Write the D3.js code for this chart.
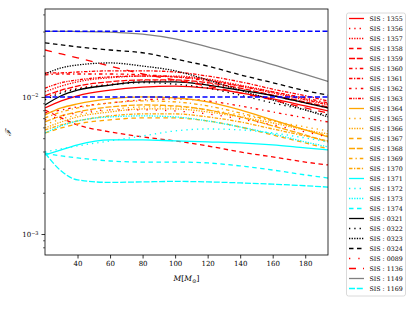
<!DOCTYPE html>
<html>
<head>
<meta charset="utf-8">
<script src="https://cdn.jsdelivr.net/npm/d3@7"></script>
<style>
  body { margin: 0; background: #fff; }
  svg { display: block; }
</style>
</head>
<body>
<div id="chart"></div>
<script>
var mass = [20, 30, 40, 60, 80, 100, 120, 140, 160, 180, 194];

// red set
var sis1355 = [0.00831, 0.00935, 0.0102, 0.0112, 0.0118, 0.0120, 0.0116, 0.0107, 0.00967, 0.00860, 0.00790];
var sis1356 = [0.00983, 0.0109, 0.0116, 0.0124, 0.0131, 0.0131, 0.0124, 0.0114, 0.0102, 0.00904, 0.00831];
var sis1357 = [0.0109, 0.0120, 0.0129, 0.0138, 0.0142, 0.0142, 0.0135, 0.0122, 0.0109, 0.00967, 0.00889];
var sis1358 = [0.00804, 0.00703, 0.00625, 0.00556, 0.00511, 0.00478, 0.00439, 0.00397, 0.00365, 0.00335, 0.00319];
var sis1359 = [0.0102, 0.0112, 0.0120, 0.0129, 0.0133, 0.0133, 0.0127, 0.0116, 0.0103, 0.00920, 0.00845];
var sis1360 = [0.0145, 0.0147, 0.0147, 0.0147, 0.0145, 0.0140, 0.0131, 0.0120, 0.0109, 0.00983, 0.00904];
var sis1361 = [0.0150, 0.0150, 0.0152, 0.0155, 0.0155, 0.0152, 0.0142, 0.0129, 0.0114, 0.0102, 0.00935];
var sis1362 = [0.00764, 0.00804, 0.00845, 0.00904, 0.00951, 0.00967, 0.00935, 0.00860, 0.00777, 0.00703, 0.00657];
var sis1363 = [0.0116, 0.0127, 0.0133, 0.0140, 0.0142, 0.0140, 0.0133, 0.0120, 0.0107, 0.00951, 0.00874];
// orange set
var sis1364 = [0.00739, 0.00831, 0.00889, 0.00967, 0.0100, 0.00983, 0.00920, 0.00804, 0.00680, 0.00575, 0.00511];
var sis1365 = [0.00625, 0.00691, 0.00739, 0.00804, 0.00845, 0.00845, 0.00804, 0.00739, 0.00668, 0.00604, 0.00565];
var sis1366 = [0.00594, 0.00657, 0.00715, 0.00777, 0.00817, 0.00817, 0.00777, 0.00715, 0.00646, 0.00575, 0.00537];
var sis1367 = [0.00546, 0.00594, 0.00636, 0.00680, 0.00703, 0.00703, 0.00668, 0.00604, 0.00528, 0.00462, 0.00418];
var sis1368 = [0.00657, 0.00727, 0.00777, 0.00845, 0.00874, 0.00860, 0.00804, 0.00715, 0.00615, 0.00528, 0.00470];
var sis1369 = [0.00703, 0.00777, 0.00831, 0.00904, 0.00935, 0.00920, 0.00860, 0.00764, 0.00668, 0.00575, 0.00519];
var sis1370 = [0.00575, 0.00625, 0.00668, 0.00727, 0.00752, 0.00752, 0.00715, 0.00657, 0.00584, 0.00519, 0.00478];
// cyan set
var sis1371 = [0.00378, 0.00411, 0.00447, 0.00486, 0.00486, 0.00478, 0.00470, 0.00462, 0.00447, 0.00425, 0.00411];
var sis1372 = [0.00397, 0.00418, 0.00439, 0.00478, 0.00519, 0.00565, 0.00584, 0.00575, 0.00546, 0.00502, 0.00470];
var sis1373 = [0.00546, 0.00615, 0.00668, 0.00715, 0.00727, 0.00715, 0.00668, 0.00604, 0.00537, 0.00470, 0.00432];
var sis1374 = [0.00390, 0.00371, 0.00359, 0.00341, 0.00335, 0.00335, 0.00330, 0.00314, 0.00293, 0.00270, 0.00256];
// black set
var sis0321 = [0.00874, 0.0102, 0.0112, 0.0122, 0.0129, 0.0129, 0.0122, 0.0112, 0.0102, 0.00904, 0.00831];
var sis0322 = [0.00951, 0.0107, 0.0114, 0.0122, 0.0127, 0.0124, 0.0116, 0.0103, 0.00904, 0.00804, 0.00739];
var sis0323 = [0.0147, 0.0163, 0.0171, 0.0177, 0.0168, 0.0155, 0.0133, 0.0112, 0.00951, 0.00804, 0.00715];
var sis0324 = [0.0248, 0.0240, 0.0232, 0.0220, 0.0210, 0.0189, 0.0168, 0.0145, 0.0127, 0.0111, 0.0103];
// the rest
var sis0089 = [0.00680, 0.00727, 0.00764, 0.00804, 0.00804, 0.00790, 0.00752, 0.00691, 0.00625, 0.00556, 0.00511];
var sis1136 = [0.0220, 0.0206, 0.0193, 0.0168, 0.0147, 0.0133, 0.0120, 0.0107, 0.00951, 0.00831, 0.00764];
var sis1149 = [0.0301, 0.0301, 0.0300, 0.0297, 0.0287, 0.0265, 0.0232, 0.0200, 0.0172, 0.0146, 0.0130];
var sis1169 = [0.00390, 0.00288, 0.00248, 0.00238, 0.00240, 0.00242, 0.00240, 0.00236, 0.00231, 0.00225, 0.00220];

var seriesNames = ["1355","1356","1357","1358","1359","1360","1361","1362","1363",
  "1364","1365","1366","1367","1368","1369","1370",
  "1371","1372","1373","1374",
  "0321","0322","0323","0324",
  "0089","1136","1149","1169"];
var seriesValues = [sis1355, sis1356, sis1357, sis1358, sis1359, sis1360, sis1361, sis1362, sis1363,
  sis1364, sis1365, sis1366, sis1367, sis1368, sis1369, sis1370,
  sis1371, sis1372, sis1373, sis1374,
  sis0321, sis0322, sis0323, sis0324,
  sis0089, sis1136, sis1149, sis1169];

// horizontal reference levels (blue dashed)
var refLevels = [0.0301, 0.0100];

var massTicks = [40, 60, 80, 100, 120, 140, 160, 180];
var fMajorTicks = [0.001, 0.01];
var fMinorTicks = [0.0008, 0.0009, 0.002, 0.003, 0.004, 0.005, 0.006, 0.007, 0.008, 0.009, 0.02, 0.03, 0.04];

// styles, same order as seriesNames
var RED = "#ff0000", ORANGE = "#ffa500", CYAN = "#00ffff";
var seriesColors = [RED,RED,RED,RED,RED,RED,RED,RED,RED,
  ORANGE,ORANGE,ORANGE,ORANGE,ORANGE,ORANGE,ORANGE,
  CYAN,CYAN,CYAN,CYAN,
  "#000","#000","#000","#000",
  RED, RED, "#808080", CYAN];
var dashCycle = [null, "1.3,4", "1.3,1.3", "4.5,3.5", "6,1.8", "3.5,3,1.3,3", "3.5,1.5,1.3,1.5", "2.5,4,1.3,4", "3,1.2,1.2,1.2,1.2,1.2"];
var seriesDash = [0,1,2,3,4,5,6,7,8, 0,1,2,3,4,5,6, 0,1,2,3, 0,1,2,3]
  .map(function(i) { return dashCycle[i]; })
  .concat(["1.3,8", "7,7", null, "6,1.8"]);

var W = 415, H = 311;
var margin = {top: 9, right: 87, bottom: 56, left: 45};
var width = W - margin.left - margin.right;
var height = H - margin.top - margin.bottom;

var svg = d3.select("#chart").append("svg")
    .attr("width", W)
    .attr("height", H);

var g = svg.append("g")
    .attr("transform", "translate(" + margin.left + "," + margin.top + ")");

var x = d3.scaleLinear().domain([20, 194]).range([0, width]);
var y = d3.scaleLog().domain([0.000703, 0.0438]).range([height, 0]);

g.append("clipPath").attr("id", "clip")
  .append("rect").attr("width", width).attr("height", height);

var plot = g.append("g").attr("clip-path", "url(#clip)");

var line = d3.line()
    .x(function(d, i) { return x(mass[i]); })
    .y(function(d) { return y(d); })
    .curve(d3.curveMonotoneX);

seriesValues.forEach(function(vals, k) {
  plot.append("path")
    .attr("d", line(vals))
    .attr("fill", "none")
    .attr("stroke", seriesColors[k])
    .attr("stroke-width", 1.3)
    .attr("stroke-dasharray", seriesDash[k]);
});

plot.selectAll(".ref")
  .data(refLevels)
  .enter().append("line")
    .attr("x1", 0).attr("x2", width)
    .attr("y1", function(d) { return y(d); })
    .attr("y2", function(d) { return y(d); })
    .attr("stroke", "#0000ff")
    .attr("stroke-width", 1.5)
    .attr("stroke-dasharray", "5,2.5");

var tickFont = "DejaVu Serif, serif";

// x axis
var xAxis = g.append("g")
    .attr("transform", "translate(0," + height + ")")
    .call(d3.axisBottom(x).tickValues(massTicks).tickSize(3.5).tickPadding(3).tickSizeOuter(0));
xAxis.select(".domain").remove();
xAxis.selectAll(".tick line").attr("stroke-width", 0.8);
xAxis.selectAll("text").attr("font-family", tickFont).attr("font-size", 7).attr("fill", "#000");

// y axis, major
var yAxis = g.append("g")
    .call(d3.axisLeft(y).tickValues(fMajorTicks).tickSize(3.5).tickPadding(3).tickFormat(""));
yAxis.select(".domain").remove();
yAxis.selectAll(".tick line").attr("stroke-width", 0.8);
yAxis.selectAll(".tick text").each(function(d) {
  var t = d3.select(this)
    .attr("font-family", tickFont).attr("font-size", 7).attr("fill", "#000");
  t.append("tspan").text("10");
  t.append("tspan").attr("dy", "-0.45em").attr("font-size", 5).text("\u2212" + Math.round(-Math.log10(d)));
});

// y axis, minor
var yMinor = g.append("g")
    .call(d3.axisLeft(y).tickValues(fMinorTicks).tickSize(2).tickFormat(""));
yMinor.select(".domain").remove();
yMinor.selectAll(".tick line").attr("stroke-width", 0.6);

// frame
g.append("rect")
  .attr("width", width).attr("height", height)
  .attr("fill", "none").attr("stroke", "#000").attr("stroke-width", 0.8);

// axis labels
var xl = svg.append("text")
    .attr("x", margin.left + width / 2)
    .attr("y", 281)
    .attr("text-anchor", "middle")
    .attr("font-family", tickFont).attr("font-size", 7.5);
xl.append("tspan").attr("font-style", "italic").text("M");
xl.append("tspan").text("[");
xl.append("tspan").attr("font-style", "italic").text("M");
xl.append("tspan").attr("font-size", 5.5).attr("dy", 1.5).text("\u2299");
xl.append("tspan").attr("dy", -1.5).text("]");

svg.append("text")
  .attr("transform", "translate(11," + (margin.top + height / 2) + ") rotate(-90)")
  .attr("text-anchor", "middle")
  .attr("font-family", tickFont).attr("font-style", "italic").attr("font-size", 8)
  .text("\u2131");

// legend
var legend = svg.append("g").attr("transform", "translate(346.5,13)");
legend.append("rect")
  .attr("width", 59).attr("height", 283).attr("rx", 2)
  .attr("fill", "#fff").attr("stroke", "#d0d0d0").attr("stroke-width", 0.8);

var items = legend.selectAll(".item")
  .data(seriesNames)
  .enter().append("g")
    .attr("transform", function(d, i) { return "translate(0," + (5.5 + i * 10) + ")"; });

items.append("line")
  .attr("x1", 2.5).attr("x2", 17.5)
  .attr("stroke", function(d, i) { return seriesColors[i]; })
  .attr("stroke-width", 1.3)
  .attr("stroke-dasharray", function(d, i) { return seriesDash[i]; });

items.append("text")
  .attr("x", 23)
  .attr("y", 2.2)
  .attr("font-family", tickFont).attr("font-size", 6.3)
  .text(function(d) { return "SIS : " + d; });
</script>
</body>
</html>
